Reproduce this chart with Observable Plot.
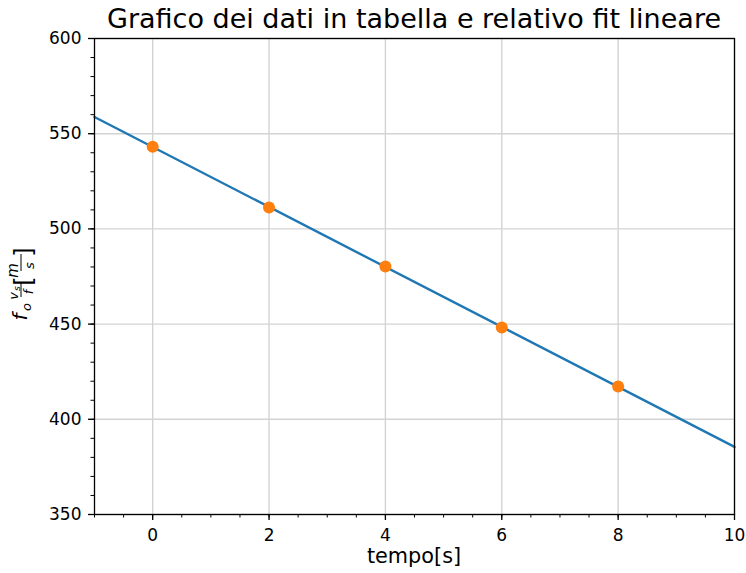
<!DOCTYPE html>
<html><head><meta charset="utf-8">
<script src="https://cdn.jsdelivr.net/npm/d3@7"></script>
<script src="https://cdn.jsdelivr.net/npm/@observablehq/plot@0.6"></script>
<style>body{margin:0;background:#fff} svg{display:block}
[aria-label$="tick label"] text{font-size:17px !important}</style>
</head><body><div id="chart"></div>
<script>
const titleText = "Grafico dei dati in tabella e relativo fit lineare";
const xLabel = "tempo[s]";
const tempo = [0, 2, 4, 6, 8];
const frequenza = [543.2, 511.2, 480.3, 448.2, 417.2];
const xDomain = [-1, 10];
const yDomain = [350, 600];
const xTicks = [0, 2, 4, 6, 8, 10];
const yTicks = [350, 400, 450, 500, 550, 600];
const xMinor = d3.range(-1, 10.001, 0.5);
const yMinor = d3.range(350, 600.001, 10);

// least-squares fit of the data
const mx = d3.mean(tempo), my = d3.mean(frequenza);
const slope = d3.sum(tempo.map((x, i) => (x - mx) * (frequenza[i] - my))) / d3.sum(tempo.map(x => (x - mx) ** 2));
const intercept = my - slope * mx;
const fitLine = xDomain.map(x => ({x, y: intercept + slope * x}));
const points = tempo.map((t, i) => ({t, f: frequenza[i]}));

const W = 746, H = 573, ML = 94, MR = 12, MT = 38, MB = 59;
const svg = Plot.plot({
  width: W, height: H,
  marginLeft: ML, marginRight: MR, marginTop: MT, marginBottom: MB,
  x: {domain: xDomain},
  y: {domain: yDomain},
  style: {fontFamily: "DejaVu Sans", fontSize: "17px", color: "black", background: "white", overflow: "visible"},
  marks: [
    Plot.gridX(xTicks, {stroke: "#d3d3d3", strokeOpacity: 1, strokeWidth: 1.4}),
    Plot.gridY(yTicks, {stroke: "#d3d3d3", strokeOpacity: 1, strokeWidth: 1.4}),
    Plot.line(fitLine, {x: "x", y: "y", stroke: "#1f77b4", strokeWidth: 2.4}),
    Plot.dot(points, {x: "t", y: "f", r: 6, fill: "#ff7f0e", stroke: "none"}),
    Plot.frame({stroke: "black", strokeWidth: 1.3}),
    Plot.axisX(xMinor, {tickSize: 3.5, tickFormat: () => "", label: null, strokeWidth: 1}),
    Plot.axisX(xTicks, {tickSize: 6, tickPadding: 8, label: null, strokeWidth: 1.3, fontSize: 17}),
    Plot.axisY(yMinor, {tickSize: 3.5, tickFormat: () => "", label: null, strokeWidth: 1}),
    Plot.axisY(yTicks, {tickSize: 6, tickPadding: 7, label: null, strokeWidth: 1.3, fontSize: 17})
  ]
});
document.getElementById("chart").appendChild(svg);

const s = d3.select(svg);
const cx = ML + (W - ML - MR) / 2;
const txt = (sel, size, italic) => sel.style("font-size", size + "px").style("font-family", "DejaVu Sans")
  .style("font-style", italic ? "italic" : "normal").style("fill", "black");
txt(s.append("text").attr("x", cx).attr("y", 28).attr("text-anchor", "middle"), 27, false).text(titleText);
txt(s.append("text").attr("x", cx).attr("y", 563).attr("text-anchor", "middle"), 20.8, false).text(xLabel);

// y label: f_o (v_s / f) [m / s]
const g = s.append("g").attr("transform", "translate(27,317) rotate(-90)");
const t = (x, y, size, str, italic = true) => txt(g.append("text").attr("x", x).attr("y", y), size, italic).text(str);
const bar = (x1, x2, y) => g.append("line").attr("x1", x1).attr("x2", x2).attr("y1", y).attr("y2", y)
  .attr("stroke", "black").attr("stroke-width", 1);
t(0, 0, 20, "f");
t(10, 3.5, 13, "o");
bar(20, 34, -6);
t(21, -9, 13, "v");
t(28.5, -7, 9.5, "s");
t(25, 6, 12.5, "f");
t(36, 5, 24, "[", false);
bar(46, 63, -6);
t(46.5, -9, 15, "m");
t(51.5, 7, 13, "s");
t(65, 5, 24, "]", false);
</script></body></html>
